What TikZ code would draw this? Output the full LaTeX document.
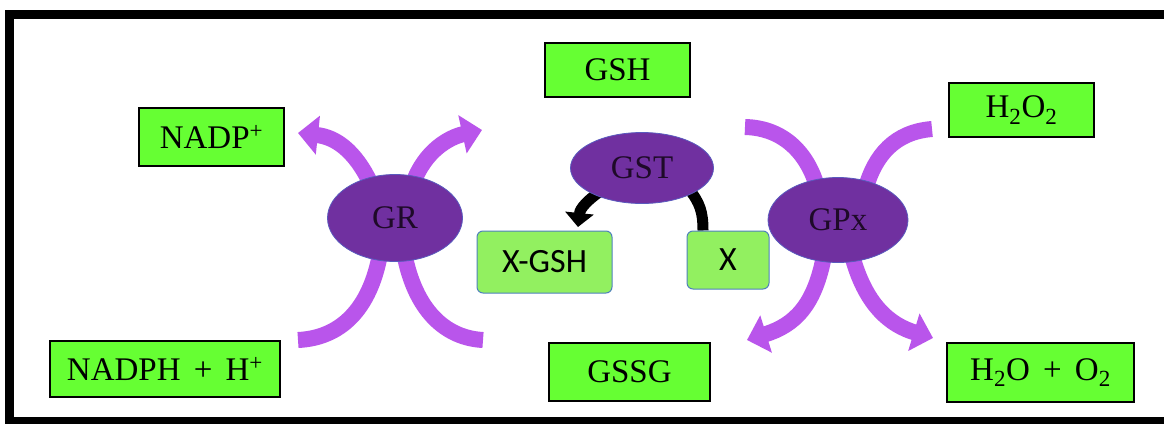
\documentclass[tikz,border=0pt]{standalone}
\usepackage{fontspec}
\setmainfont{Liberation Serif}
\newfontfamily\carlito{Carlito}
\usetikzlibrary{shapes.geometric,arrows.meta}
\definecolor{boxgreen}{RGB}{102,255,51}
\definecolor{lightgreen}{RGB}{146,240,96}
\definecolor{boxblue}{RGB}{79,129,189}
\definecolor{enzpurple}{RGB}{112,48,160}
\definecolor{enzborder}{RGB}{90,90,190}
\definecolor{enztext}{RGB}{30,10,40}
\definecolor{arrowviolet}{RGB}{185,85,235}
\pgfdeclarelayer{bg}
\pgfsetlayers{bg,main}
\begin{document}
\begin{tikzpicture}[x=1pt,y=-1pt,
  species/.style={draw=black, line width=1.2pt, fill=boxgreen, inner sep=0pt, font=\fontsize{33}{33}\selectfont, text=black},
  substrate/.style={draw=boxblue, line width=1pt, fill=lightgreen, rounded corners=6pt, inner sep=0pt, font=\carlito\fontsize{34}{34}\selectfont, text=black},
  enzyme/.style={ellipse, draw=enzborder, line width=0.8pt, fill=enzpurple, inner sep=0pt, font=\fontsize{33}{33}\selectfont, text=enztext},
  flow/.style={draw=arrowviolet, line width=16pt, line cap=butt, -{Triangle[width=38pt,length=20pt]}},
  inflow/.style={draw=arrowviolet, line width=16pt, line cap=butt},
  gstflow/.style={draw=black, line width=11pt, line cap=butt, -{Triangle[width=28pt,length=14pt]}},
  gstline/.style={draw=black, line width=11pt, line cap=butt}]
\useasboundingbox (0,0) rectangle (1164,423);
\clip (0,0) rectangle (1164,423);
\begin{pgfonlayer}{bg}
  \fill[white] (0,0) rectangle (1164,423);
\end{pgfonlayer}
\draw[line width=9pt] (9.5,14) rectangle (1185,421.5);

% species boxes
\node[species, minimum width=145pt, minimum height=58pt] (nadp) at (211.5,137) {NADP\textsuperscript{+}};
\node[species, minimum width=230pt, minimum height=56pt] (nadph) at (165,369) {NADPH\hspace{0.4em}+\hspace{0.4em}H\textsuperscript{+}};
\node[species, minimum width=145pt, minimum height=54pt] (gsh) at (617.5,70) {GSH};
\node[species, minimum width=161pt, minimum height=58pt] (gssg) at (629.5,372) {GSSG};
\node[substrate, minimum width=135pt, minimum height=62pt] (xgsh) at (544.5,262) {X-GSH};
\node[substrate, minimum width=82pt, minimum height=58pt] (x) at (728,260) {X};
\node[species, minimum width=145pt, minimum height=54pt] (h2o2) at (1021.5,110) {H\textsubscript{2}O\textsubscript{2}};
\node[species, minimum width=187pt, minimum height=59pt] (h2oo2) at (1040.5,372.5) {H\textsubscript{2}O\hspace{0.4em}+\hspace{0.4em}O\textsubscript{2}};

% enzymes
\node[enzyme, minimum width=135pt, minimum height=87pt] (gr) at (395,218) {GR};
\node[enzyme, minimum width=143pt, minimum height=71pt] (gst) at (642,168) {GST};
\node[enzyme, minimum width=140pt, minimum height=85pt] (gpx) at (838,220) {GPx};

% free ends of the curved arrows
\coordinate (grUL) at (298,133);
\coordinate (grUR) at (482,130);
\coordinate (grLL) at (298,340);
\coordinate (grLR) at (483,340);
\coordinate (gpxUL) at (745,127);
\coordinate (gpxUR) at (932,129);
\coordinate (gpxLL) at (747,340);
\coordinate (gpxLR) at (933,338);
\coordinate (gstTip) at (578,227);

\begin{pgfonlayer}{bg}
  % GR
  \draw[flow] ([yshift=-8pt]gr.120) .. controls (355,150) and (335,137) .. (grUL);
  \draw[flow] ([yshift=-8pt]gr.67) .. controls (425,150) and (450,137) .. (grUR);
  \draw[inflow] (grLL) .. controls (340,338) and (370,310) .. ([yshift=8pt]gr.251);
  \draw[inflow] (grLR) .. controls (445,338) and (415,310) .. ([yshift=8pt]gr.282);
  % GPx
  \draw[inflow] (gpxUL) .. controls (785,128) and (808,155) .. ([yshift=-8pt]gpx.117);
  \draw[inflow] (gpxUR) .. controls (895,132) and (875,155) .. ([yshift=-8pt]gpx.55);
  \draw[flow] ([yshift=8pt]gpx.252) .. controls (815,305) and (795,325) .. (gpxLL);
  \draw[flow] ([yshift=8pt]gpx.288) .. controls (865,305) and (890,325) .. (gpxLR);
  % GST
  \draw[gstflow] ([yshift=6pt]gst.215) .. controls (588,200) and (580,208) .. (gstTip);
  \draw[gstline] ([xshift=-25pt]x.north) .. controls (703,212) and (700,203) .. ([yshift=6pt]gst.330);
\end{pgfonlayer}
\end{tikzpicture}
\end{document}
